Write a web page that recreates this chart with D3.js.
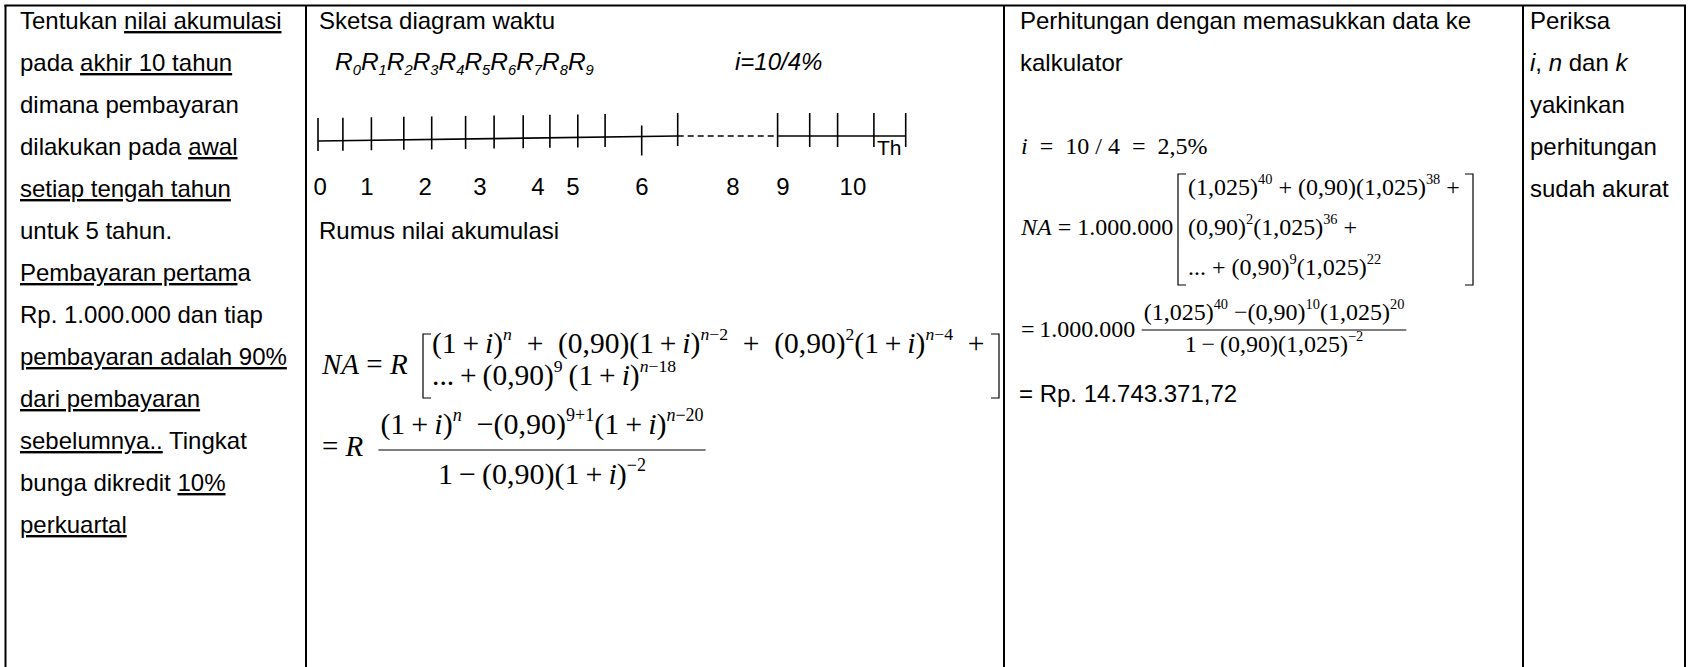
<!DOCTYPE html>
<html>
<head>
<meta charset="utf-8">
<script src="https://cdn.jsdelivr.net/npm/d3@7"></script>
<style>
  body { margin: 0; background: #fff; }
  svg text { white-space: pre; }
</style>
</head>
<body>
<script>
var W = 1688, H = 667;
var SANS = "'Liberation Sans', Arial, sans-serif";
var SERIF = "'Liberation Serif', 'Times New Roman', serif";
var S = "\u2009", E = "\u2002";

// table column edges (x)
var colEdges = [5.5, 306, 1004, 1523, 1685];

// left column text, [text, flags] ("_" = underline, "i" = italic)
var colOneLines = [
  [["Tentukan "], ["nilai akumulasi", "_"]],
  [["pada "], ["akhir 10 tahun", "_"]],
  [["dimana pembayaran"]],
  [["dilakukan pada "], ["awal", "_"]],
  [["setiap tengah tahun", "_"]],
  [["untuk 5 tahun."]],
  [["Pembayaran pertam", "_"], ["a"]],
  [["Rp. 1.000.000 dan tiap"]],
  [["pembayaran adalah 90%", "_"]],
  [["dari pembayaran", "_"]],
  [["sebelumnya..", "_"], [" Tingkat"]],
  [["bunga dikredit "], ["10%", "_"]],
  [["perkuartal", "_"]]
];
var colFourLines = [
  [["Periksa"]],
  [["i", "i"], [", "], ["n", "i"], [" dan "], ["k", "i"]],
  [["yakinkan"]],
  [["perhitungan"]],
  [["sudah akurat"]]
];

// time diagram: tick positions along the line (diagram units), labels
var tickLeft = [0, 0.83, 1.78, 2.86, 3.79, 4.92, 5.87, 6.84, 7.73, 8.66, 9.57, 10.79, 11.99];
var tickRight = [15.32, 16.39, 17.32, 18.53, 19.59];
var lowTicks = [10.79];
var dashSpan = [11.99, 15.32];
var tickLabels = ["0", "1", "2", "3", "4", "5", "6", "8", "9", "10"];
var tickLabelPos = [0.07, 1.63, 3.57, 5.4, 7.33, 8.5, 10.8, 13.83, 15.5, 17.83];
var payments = ["0", "1", "2", "3", "4", "5", "6", "7", "8", "9"];

// formulas (general)
var formNA = [["NA", "i"], [" = "], ["R", "i"]];
var formRow1 = [["(1" + S + "+" + S], ["i", "i"], [")"], ["n", "iu"], [E + "+" + E], ["(0,90)(1" + S + "+" + S], ["i", "i"], [")"], ["n", "iu"], ["\u22122", "u"],
  [E + "+" + E], ["(0,90)"], ["2", "u"], ["(1" + S + "+" + S], ["i", "i"], [")"], ["n", "iu"], ["\u22124", "u"], [E + "+"]];
var formRow2 = [["..." + S + "+" + S + "(0,90)"], ["9", "u"], [S + "(1" + S + "+" + S], ["i", "i"], [")"], ["n", "iu"], ["\u221218", "u"]];
var formEq = [["= "], ["R", "i"]];
var formNum = [["(1" + S + "+" + S], ["i", "i"], [")"], ["n", "iu"], [E + "\u2212(0,90)"], ["9+1", "u"], ["(1" + S + "+" + S], ["i", "i"], [")"], ["n", "iu"], ["\u221220", "u"]];
var formDen = [["1" + S + "\u2212" + S + "(0,90)(1" + S + "+" + S], ["i", "i"], [")"], ["\u22122", "u"]];

// formulas (calculator)
var calcI = [["i", "i"], [E + "=" + E + "10 / 4" + E + "=" + E + "2,5%"]];
var calcNA = [["NA", "i"], [" = 1.000.000"]];
var calcRows = [
  [["(1,025)"], ["40", "u"], [" + (0,90)(1,025)"], ["38", "u"], [" +"]],
  [["(0,90)"], ["2", "u"], ["(1,025)"], ["36", "u"], [" +"]],
  [["... + (0,90)"], ["9", "u"], ["(1,025)"], ["22", "u"]]
];
var calcEq = [["=" + S + "1.000.000"]];
var calcNum = [["(1,025)"], ["40", "u"], [" \u2212(0,90)"], ["10", "u"], ["(1,025)"], ["20", "u"]];
var calcDen = [["1" + S + "\u2212" + S + "(0,90)(1,025)"], ["\u22122", "u"]];
var calcResult = "= Rp. 14.743.371,72";

var svg = d3.select("body").append("svg")
  .attr("width", W)
  .attr("height", H);

function rich(g, x, y, parts, size, family, anchor) {
  var t = g.append("text")
    .attr("x", x)
    .attr("y", y)
    .attr("font-family", family)
    .attr("font-size", size)
    .attr("text-anchor", anchor || "start")
    .attr("fill", "#000");
  var cur = 0;
  parts.forEach(function(p) {
    var f = p[1] || "";
    var off = f.indexOf("u") >= 0 ? -0.45 * size : (f.indexOf("d") >= 0 ? 0.22 * size : 0);
    var ts = t.append("tspan").attr("dy", off - cur).text(p[0]);
    if (off !== 0) ts.attr("font-size", size * 0.6);
    if (f.indexOf("i") >= 0) ts.attr("font-style", "italic");
    if (f.indexOf("_") >= 0) ts.style("text-decoration", "underline");
    cur = off;
  });
  return t;
}

function bracket(g, x, y0, y1, dir) {
  g.append("path")
    .attr("d", "M" + (x + 8 * dir) + "," + y0 + "H" + x + "V" + y1 + "H" + (x + 8 * dir))
    .attr("fill", "none")
    .attr("stroke", "#000")
    .attr("stroke-width", 1.2);
}

function fraction(g, cx, yNum, yBar, yDen, num, den, size) {
  var tn = rich(g, cx, yNum, num, size, SERIF, "middle");
  var td = rich(g, cx, yDen, den, size, SERIF, "middle");
  var a = tn.node().getBBox(), b = td.node().getBBox();
  g.append("line")
    .attr("x1", Math.min(a.x, b.x) - 2)
    .attr("x2", Math.max(a.x + a.width, b.x + b.width) + 2)
    .attr("y1", yBar).attr("y2", yBar)
    .attr("stroke", "#000")
    .attr("stroke-width", 1.2);
}

// table lines
svg.selectAll("line.col")
  .data(colEdges)
  .enter()
  .append("line")
  .attr("class", "col")
  .attr("x1", function(d) { return d; })
  .attr("x2", function(d) { return d; })
  .attr("y1", 5)
  .attr("y2", H)
  .attr("stroke", "#000")
  .attr("stroke-width", 2);
svg.append("line")
  .attr("x1", colEdges[0] - 1).attr("x2", colEdges[4] + 1)
  .attr("y1", 5.5).attr("y2", 5.5)
  .attr("stroke", "#000").attr("stroke-width", 2);

// column 1
var g1 = svg.append("g");
colOneLines.forEach(function(line, k) {
  rich(g1, 20, 29 + 42 * k, line, 24, SANS);
});

// column 4
var g4 = svg.append("g");
colFourLines.forEach(function(line, k) {
  rich(g4, 1530, 29 + 42 * k, line, 24, SANS);
});

// column 2: time diagram
var g2 = svg.append("g");
rich(g2, 319, 29, [["Sketsa diagram waktu"]], 24, SANS);
var rParts = [];
payments.forEach(function(p) { rParts.push(["R", "i"]); rParts.push([p, "id"]); });
rich(g2, 335, 70, rParts, 24.5, SANS);
rich(g2, 735, 70, [["i=10/4%", "i"]], 24, SANS);

var x = d3.scaleLinear().domain([0, 20]).range([318, 918]);
var yLine = d3.scaleLinear().domain([0, dashSpan[0]]).range([141, 136]);

g2.append("text")
  .attr("x", 877).attr("y", 155)
  .attr("font-family", SANS).attr("font-size", 21)
  .text("Th");

g2.append("line")
  .attr("x1", x(0)).attr("y1", yLine(0))
  .attr("x2", x(dashSpan[0])).attr("y2", yLine(dashSpan[0]))
  .attr("stroke", "#000").attr("stroke-width", 1.6);
g2.append("line")
  .attr("x1", x(dashSpan[0])).attr("y1", 136)
  .attr("x2", x(dashSpan[1])).attr("y2", 136)
  .attr("stroke", "#000").attr("stroke-width", 1.3)
  .attr("stroke-dasharray", "6,4");
g2.append("line")
  .attr("x1", x(tickRight[0])).attr("y1", 136)
  .attr("x2", x(tickRight[tickRight.length - 1])).attr("y2", 136)
  .attr("stroke", "#000").attr("stroke-width", 1.6);

g2.selectAll("line.tl")
  .data(tickLeft)
  .enter()
  .append("line")
  .attr("class", "tl")
  .attr("x1", function(d) { return x(d); })
  .attr("x2", function(d) { return x(d); })
  .attr("y1", function(d) { return yLine(d) - (lowTicks.indexOf(d) >= 0 ? 11 : 23); })
  .attr("y2", function(d) { return yLine(d) + (lowTicks.indexOf(d) >= 0 ? 19 : 10); })
  .attr("stroke", "#000").attr("stroke-width", 1.6);
g2.selectAll("line.tr")
  .data(tickRight)
  .enter()
  .append("line")
  .attr("class", "tr")
  .attr("x1", function(d) { return x(d); })
  .attr("x2", function(d) { return x(d); })
  .attr("y1", 113)
  .attr("y2", 147)
  .attr("stroke", "#000").attr("stroke-width", 1.6);

g2.selectAll("text.lab")
  .data(tickLabels)
  .enter()
  .append("text")
  .attr("class", "lab")
  .attr("x", function(d, i) { return x(tickLabelPos[i]); })
  .attr("y", 195)
  .attr("text-anchor", "middle")
  .attr("font-family", SANS).attr("font-size", 24)
  .text(function(d) { return d; });

rich(g2, 319, 239, [["Rumus nilai akumulasi"]], 24, SANS);

// general formula
rich(g2, 322, 374, formNA, 29, SERIF);
bracket(g2, 423, 334, 398, 1);
bracket(g2, 999, 334, 398, -1);
rich(g2, 432, 353, formRow1, 29.5, SERIF);
rich(g2, 432, 385, formRow2, 29.5, SERIF);
rich(g2, 322, 456, formEq, 29, SERIF);
fraction(g2, 542, 434, 450, 484, formNum, formDen, 30);

// column 3: calculator
var g3 = svg.append("g");
rich(g3, 1020, 29, [["Perhitungan dengan memasukkan data ke"]], 24, SANS);
rich(g3, 1020, 71, [["kalkulator"]], 24, SANS);
rich(g3, 1021, 154, calcI, 24, SERIF);
rich(g3, 1021, 235, calcNA, 24, SERIF);
bracket(g3, 1178, 174, 285, 1);
bracket(g3, 1473, 174, 285, -1);
calcRows.forEach(function(r, k) {
  rich(g3, 1188, 195 + 40 * k, r, 24, SERIF);
});
rich(g3, 1021, 337, calcEq, 24, SERIF);
fraction(g3, 1274, 320, 330, 352, calcNum, calcDen, 24);
rich(g3, 1019, 402, [[calcResult]], 24, SANS);
</script>
</body>
</html>
